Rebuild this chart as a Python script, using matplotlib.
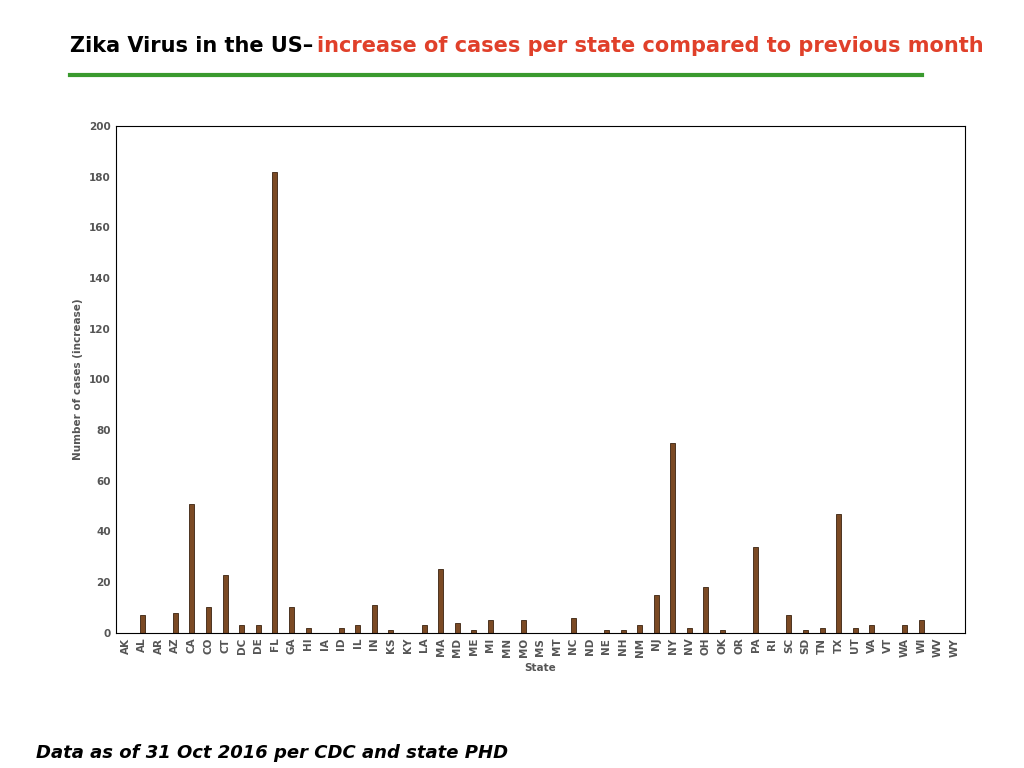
import matplotlib.pyplot as plt
from matplotlib.lines import Line2D

states = ["AK", "AL", "AR", "AZ", "CA", "CO", "CT", "DC", "DE", "FL", "GA", "HI", "IA", "ID", "IL", "IN",
          "KS", "KY", "LA", "MA", "MD", "ME", "MI", "MN", "MO", "MS", "MT", "NC", "ND", "NE", "NH", "NM",
          "NJ", "NY", "NV", "OH", "OK", "OR", "PA", "RI", "SC", "SD", "TN", "TX", "UT", "VA", "VT", "WA",
          "WI", "WV", "WY"]
increase = [0, 7, 0, 8, 51, 10, 23, 3, 3, 182, 10, 2, 0, 2, 3, 11,
            1, 0, 3, 25, 4, 1, 5, 0, 5, 0, 0, 6, 0, 1, 1, 3,
            15, 75, 2, 18, 1, 0, 34, 0, 7, 1, 2, 47, 2, 3, 0, 3,
            5, 0, 0]

fig = plt.figure(figsize=(10.24, 7.68), dpi=100)
ax = fig.add_axes([0.113, 0.176, 0.829, 0.66])
x = range(len(states))
ax.bar(x, increase, width=0.3, color="#7b4a24", edgecolor="#3a220f", linewidth=0.6)
ax.set_xlim(-0.6, len(states) - 0.4)
ax.set_ylim(0, 200)
ax.set_yticks(range(0, 201, 20))
ax.set_xticks(list(x))
ax.set_xticklabels(states, rotation=90)
ax.tick_params(labelsize=7.5, colors="#555555", length=0)
for lbl in ax.get_xticklabels() + ax.get_yticklabels():
    lbl.set_fontweight("bold")
ax.set_ylabel("Number of cases (increase)", fontsize=7.5, fontweight="bold", color="#555555")
ax.set_xlabel("State", fontsize=7.5, fontweight="bold", color="#555555")

fig.text(0.068, 0.94, "Zika Virus in the US\u2013", fontsize=15, fontweight="bold", color="black", va="center")
fig.text(0.31, 0.94, "increase of cases per state compared to previous month", fontsize=15,
         fontweight="bold", color="#e0402a", va="center")
fig.add_artist(Line2D([0.068, 0.9], [0.902, 0.902], color="#3a9a2e", linewidth=3))
fig.text(0.035, 0.02, "Data as of 31 Oct 2016 per CDC and state PHD", fontsize=13,
         fontweight="bold", style="italic", va="center")

fig.savefig("out.png", dpi=100)
